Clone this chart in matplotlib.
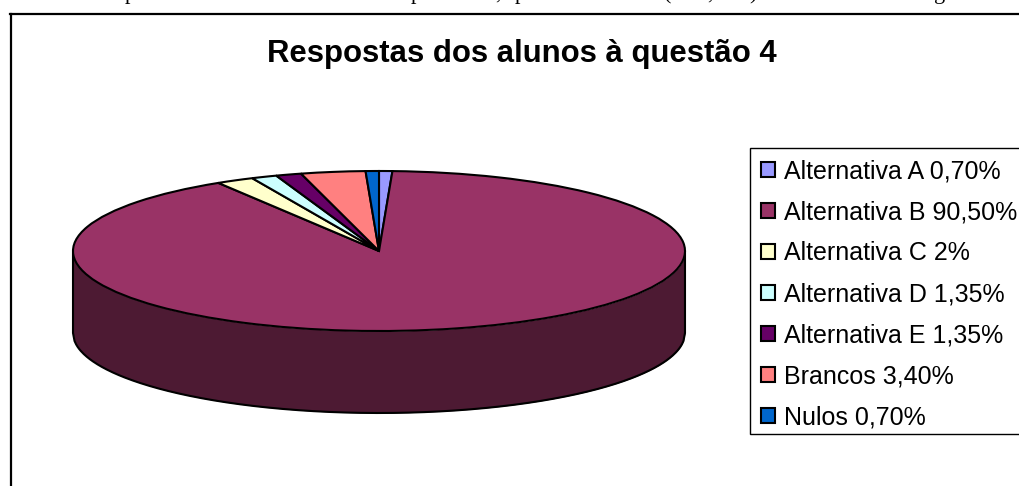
import numpy as np
import matplotlib
matplotlib.use("Agg")
import matplotlib.pyplot as plt
from matplotlib.lines import Line2D
from matplotlib.patches import Rectangle

W, H = 1019, 486
DPI = 100

categories = ["Alternativa A", "Alternativa B", "Alternativa C", "Alternativa D",
              "Alternativa E", "Brancos", "Nulos"]
shares = [0.70, 90.50, 2.0, 1.35, 1.35, 3.40, 0.70]
share_labels = ["0,70%", "90,50%", "2%", "1,35%", "1,35%", "3,40%", "0,70%"]
colors = ["#9999FF", "#993366", "#FFFFCC", "#CCFFFF", "#660066", "#FF8080", "#0066CC"]
wall_color = "#4D1A33"

# pie placement in pixels, measured from the top-left corner
cx, cy, rx, ry, depth = 379, 251, 306, 80, 82

plt.rcParams["font.family"] = ["Liberation Sans", "DejaVu Sans"]
fig = plt.figure(figsize=(W / DPI, H / DPI), dpi=DPI, facecolor="white")
ax = fig.add_axes([0, 0, 1, 1])

wedges, _ = ax.pie(shares, colors=colors, startangle=90, counterclock=False,
                   radius=1, wedgeprops=dict(edgecolor="black", linewidth=1.5, zorder=3))

# flatten the disc by giving the two axes different scales
ax.set_aspect("auto")
ax.set_xlim(-cx / rx, (W - cx) / rx)
ax.set_ylim((cy - H) / ry, cy / ry)
ax.axis("off")

# side wall of the disc, seen along the front half of the rim
xs = np.linspace(-1, 1, 400)
rim = -np.sqrt(1 - xs ** 2)
drop = depth / ry
ax.fill_between(xs, rim, rim - drop, color=wall_color, zorder=1, linewidth=0)
ax.plot(np.r_[xs[0], xs, xs[-1]], np.r_[0, rim - drop, 0], color="black", lw=1.5, zorder=2)


def fx(px):
    return px / W


def fy(py):
    return 1 - py / H


# outer chart frame runs off the right and bottom edges
fig.add_artist(Line2D([fx(11), fx(11)], [fy(14), fy(H)], color="black", lw=1.6))
fig.add_artist(Line2D([fx(10.2), fx(W)], [fy(14), fy(14)], color="black", lw=1.6))

fig.text(fx(522), fy(62), "Respostas dos alunos à questão 4", ha="center", va="baseline",
         fontsize=22.4, fontweight="bold", color="black")

# descenders of the body text line sitting above the chart
body_font = ["Liberation Serif", "DejaVu Serif"]
for char, px in [("p", 130), ("p", 416), (",", 498), ("p", 520), ("(", 668),
                 (",", 710), (")", 753), ("g", 940)]:
    fig.text(fx(px), fy(-1), char, ha="center", va="baseline", fontsize=16,
             family=body_font, color="black")

# legend box, open past the right edge
fig.add_artist(Rectangle((fx(750), fy(434)), fx(W + 20 - 750), fy(148) - fy(434),
                         transform=fig.transFigure, facecolor="white",
                         edgecolor="black", linewidth=1.0, zorder=4))

labels = [f"{c} {v}" for c, v in zip(categories, share_labels)]
legend = fig.legend(wedges, labels, loc="upper left", bbox_to_anchor=(fx(750), fy(149)),
                    bbox_transform=fig.transFigure, fontsize=18, frameon=False,
                    borderaxespad=0, borderpad=0.42,
                    handlelength=0.56, handleheight=0.56, handletextpad=0.38, labelspacing=0.68)
legend.set_zorder(5)

fig.savefig("out.png", dpi=DPI)
